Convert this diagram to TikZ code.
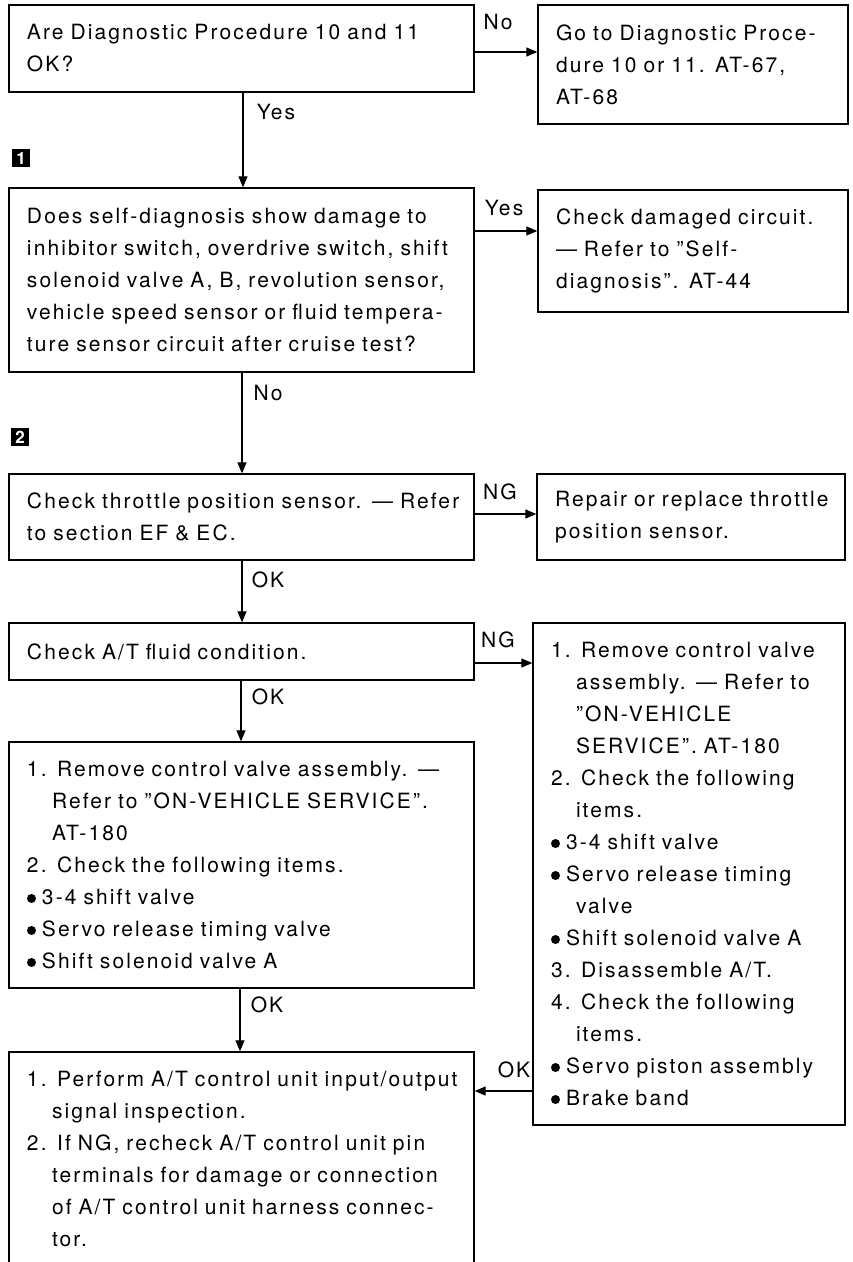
\documentclass[tikz,border=0pt]{standalone}
\usepackage{fontspec}
\setmainfont{TeX Gyre Heros}[LetterSpace=10]
\usetikzlibrary{arrows.meta}

\newcommand\boxfont{\fontsize{21}{32}\selectfont}
\newcommand\bl{\raisebox{1.5pt}{\tikz\fill (0,0) circle (4.5pt);}\hspace{6pt}}
\newcommand\ind{\hspace*{25pt}}

\begin{document}
\begin{tikzpicture}[x=1pt,y=-1pt,
  box/.style={draw, line width=1.3pt, inner xsep=18pt, inner ysep=0pt, align=left, font=\boxfont},
  arr/.style={line width=1.1pt, -{Triangle[length=11pt,width=9pt]}},
  lbl/.style={font=\boxfont, inner sep=0pt},
  tag/.style={fill=black, text=white, minimum size=18pt, inner sep=0pt, font=\fontsize{17}{17}\selectfont\bfseries}]
\useasboundingbox[fill=white] (0,0) rectangle (853,1262);

% question and action boxes
\node[box, minimum width=465pt, minimum height=87pt, text width=429pt] (A) at (241.5,48.5)
  {Are Diagnostic Procedure 10 and 11\\OK?};
\node[box, minimum width=310pt, minimum height=119pt, text width=274pt] (B) at (693,64.5)
  {Go to Diagnostic Proce-\\dure 10 or 11. AT-67,\\AT-68};
\node[box, minimum width=465pt, minimum height=184pt, text width=429pt] (C) at (241.5,280)
  {Does self-diagnosis show damage to\\inhibitor switch, overdrive switch, shift\\solenoid valve A, B, revolution sensor,\\vehicle speed sensor or fluid tempera-\\ture sensor circuit after cruise test?};
\node[box, minimum width=310pt, minimum height=122pt, text width=274pt] (D) at (693,251)
  {Check damaged circuit.\\— Refer to ''Self-\\diagnosis''. AT-44};
\node[box, minimum width=465pt, minimum height=86pt, text width=429pt] (E) at (241.5,517)
  {Check throttle position sensor. — Refer\\to section EF \& EC.};
\node[box, minimum width=308pt, minimum height=86pt, text width=272pt] (F) at (691,517)
  {Repair or replace throttle\\position sensor.};
\node[box, minimum width=465pt, minimum height=57pt, text width=429pt] (G) at (241.5,651.5)
  {Check A/T fluid condition.};
\node[box, minimum width=312pt, minimum height=502pt, text width=276pt] (H) at (689,874)
  {1. Remove control valve\\\ind assembly. — Refer to\\\ind ''ON-VEHICLE\\\ind SERVICE''. AT-180\\2. Check the following\\\ind items.\\\bl 3-4 shift valve\\\bl Servo release timing\\\ind valve\\\bl Shift solenoid valve A\\3. Disassemble A/T.\\4. Check the following\\\ind items.\\\bl Servo piston assembly\\\bl Brake band};
\node[box, minimum width=465pt, minimum height=246pt, text width=429pt] (I) at (241.5,865)
  {1. Remove control valve assembly. —\\\ind Refer to ''ON-VEHICLE SERVICE''.\\\ind AT-180\\2. Check the following items.\\\bl 3-4 shift valve\\\bl Servo release timing valve\\\bl Shift solenoid valve A};
\node[box, minimum width=465pt, minimum height=214pt, text width=429pt] (J) at (241.5,1159)
  {1. Perform A/T control unit input/output\\\ind signal inspection.\\2. If NG, recheck A/T control unit pin\\\ind terminals for damage or connection\\\ind of A/T control unit harness connec-\\\ind tor.};

% step markers
\node[tag] (t1) at (21,158) {1};
\node[tag] (t2) at (20,437) {2};

% connectors
\draw[arr] (A.east |- 0,52) -- (B.west |- 0,52);
\draw[arr] (A.south -| 243,0) -- (C.north -| 243,0);
\draw[arr] (C.east |- 0,231) -- (D.west |- 0,231);
\draw[arr] (C.south -| 242,0) -- (E.north -| 242,0);
\draw[arr] (E.east |- 0,514) -- (F.west |- 0,514);
\draw[arr] (E.south -| 242,0) -- (G.north -| 242,0);
\draw[arr] (G.east |- 0,663) -- (H.west |- 0,663);
\draw[arr] (G.south -| 241,0) -- (I.north -| 241,0);
\draw[arr] (I.south -| 240,0) -- (J.north -| 240,0);
\draw[arr] (H.west |- 0,1091) -- (J.east |- 0,1091);

% connector labels
\node[lbl] (l1) at (498,22) {No};
\node[lbl] (l2) at (276,112) {Yes};
\node[lbl] (l3) at (504,208) {Yes};
\node[lbl] (l4) at (268,393) {No};
\node[lbl] (l5) at (500,492) {NG};
\node[lbl] (l6) at (268,580) {OK};
\node[lbl] (l7) at (498,640) {NG};
\node[lbl] (l8) at (268,697) {OK};
\node[lbl] (l9) at (267,1005) {OK};
\node[lbl] (l10) at (514,1070) {OK};
\end{tikzpicture}
\end{document}
